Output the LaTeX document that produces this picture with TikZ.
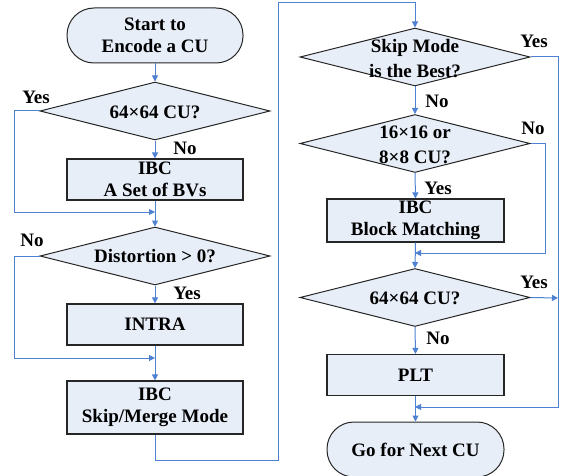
\documentclass[tikz,border=0pt]{standalone}
\usepackage{fontspec}
\setmainfont{Liberation Serif}
\usetikzlibrary{shapes.geometric,arrows.meta}
\definecolor{fillb}{RGB}{231,238,248}
\definecolor{lineb}{RGB}{79,129,210}
\tikzset{
  every node/.style={font=\bfseries\fontsize{19}{22}\selectfont},
  procbox/.style={draw=black!85, line width=1.2pt, fill=fillb, minimum width=176pt, minimum height=41pt, inner sep=0pt, align=center},
  termbox/.style={draw=black!85, line width=1pt, fill=fillb, rounded corners=27pt, minimum width=176pt, minimum height=55pt, inner sep=0pt, align=center},
  decbox/.style={draw=black!85, line width=1pt, fill=fillb, diamond, minimum width=230pt, minimum height=58pt, inner sep=0pt},
  dtext/.style={align=center, inner sep=0pt, font=\bfseries\fontsize{19}{25}\selectfont},
  lbl/.style={inner sep=0pt},
  conn/.style={draw=lineb, line width=1pt},
  arr/.style={conn, -{Triangle[length=6pt,width=6pt]}},
}
\begin{document}
\begin{tikzpicture}[x=1pt,y=-1pt]
\useasboundingbox (0,0) rectangle (567,476);
% left column
\node[termbox] (start) at (155,35.5) {Start to\\Encode a CU};
\node[decbox] (d1) at (155,111) {};
\node[dtext] (t1) at (155,112) {64×64 CU?};
\node[procbox] (b1) at (155,179.5) {IBC\\A Set of BVs};
\node[decbox] (d2) at (155,256) {};
\node[dtext] (t2) at (155,256) {Distortion > 0?};
\node[procbox] (intra) at (155,324.5) {INTRA};
\node[procbox, minimum height=53pt] (skip) at (155,407.5) {IBC\\Skip/Merge Mode};
% right column
\node[decbox] (d3) at (415,57) {};
\node[dtext] (t3) at (415,59) {Skip Mode\\is the Best?};
\node[decbox] (d4) at (415,143.5) {};
\node[dtext] (t4) at (415,145) {16×16 or\\8×8 CU?};
\node[procbox, minimum width=177pt, minimum height=43pt] (bm) at (415.5,220.5) {IBC\\Block Matching};
\node[decbox] (d5) at (415,297.5) {};
\node[dtext] (t5) at (415,298) {64×64 CU?};
\node[procbox, minimum width=177pt] (plt) at (415.5,375) {PLT};
\node[termbox, minimum width=177pt] (go) at (415.5,449.5) {Go for Next CU};
% junction coordinates
\coordinate (j1) at (155,212);
\coordinate (j2) at (155,358);
\coordinate (j3) at (415,253);
\coordinate (j4) at (415,407);
\coordinate (j5) at (558,298);
% connectors left
\draw[arr] (start.south) -- (d1.north);
\draw[arr] (d1.south) -- (b1.north);
\draw[arr] (d1.west) -- ++(-25,0) |- (j1);
\draw[arr] (b1.south) -- (d2.north);
\draw[arr] (d2.west) -- ++(-25,0) |- (j2);
\draw[arr] (d2.south) -- (intra.north);
\draw[arr] (intra.south) -- (skip.north);
\draw[arr] (skip.south) -- ++(0,26) -| (278,3) -| (d3.north);
% connectors right
\draw[arr] (d3.south) -- (d4.north);
\draw[arr] (d3.east) -- ++(28,0) |- (j4);
\draw[arr] (d4.south) -- (bm.north);
\draw[arr] (d4.east) -- ++(15,0) |- (j3);
\draw[arr] (bm.south) -- (d5.north);
\draw[arr] (d5.east) -- (j5);
\draw[arr] (d5.south) -- (plt.north);
\draw[arr] (plt.south) -- (go.north);
% labels
\node[lbl] (l1) at (36,97) {Yes};
\node[lbl] (l2) at (185,148) {No};
\node[lbl] (l3) at (32,240) {No};
\node[lbl] (l4) at (187,293) {Yes};
\node[lbl] (l5) at (534,41) {Yes};
\node[lbl] (l6) at (437,101) {No};
\node[lbl] (l7) at (533,128) {No};
\node[lbl] (l8) at (438,188) {Yes};
\node[lbl] (l9) at (534,282) {Yes};
\node[lbl] (l10) at (438,338) {No};
\end{tikzpicture}
\end{document}
